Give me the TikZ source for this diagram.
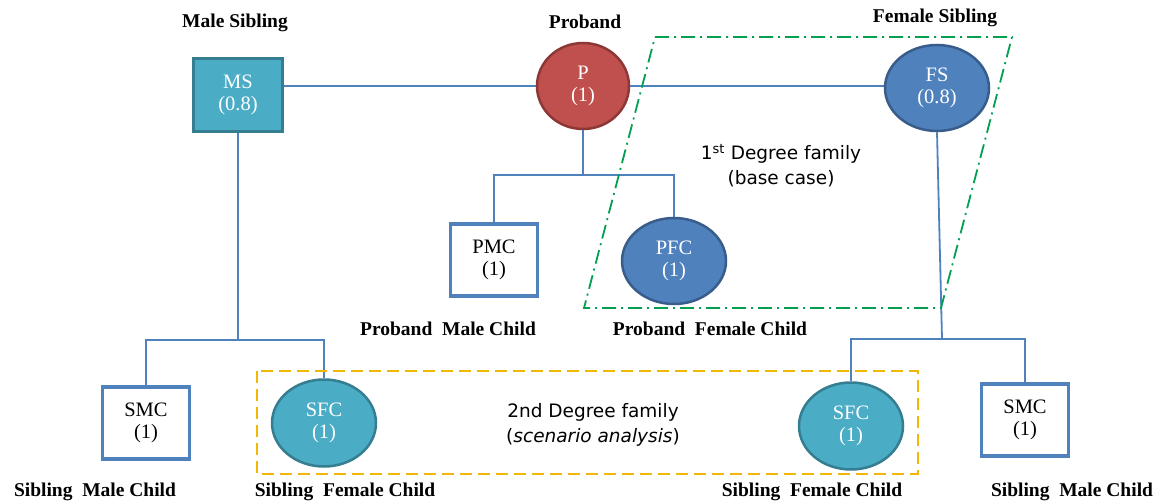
\documentclass[tikz,border=0pt]{standalone}
\usepackage{fontspec}
\setmainfont{Liberation Serif}
\newfontfamily\comicfont{DejaVu Sans}
\usetikzlibrary{shapes.geometric,backgrounds}
\definecolor{teal1}{HTML}{4BACC6}
\definecolor{teal2}{HTML}{357D91}
\definecolor{blue1}{HTML}{4F81BD}
\definecolor{blue2}{HTML}{385D8A}
\definecolor{red1}{HTML}{C0504D}
\definecolor{red2}{HTML}{8C3836}
\definecolor{green1}{HTML}{00A050}
\definecolor{yellow1}{HTML}{F2B705}
\tikzset{
  nodetext/.style={align=center,font=\fontsize{20.5}{22}\selectfont,inner sep=0pt},
  tealbox/.style={nodetext,rectangle,fill=teal1,draw=teal2,line width=3pt,text=white,minimum width=89pt,minimum height=72pt},
  whitebox/.style={nodetext,rectangle,fill=white,draw=blue1,line width=3.5pt,text=black,minimum width=87pt,minimum height=72pt},
  redcirc/.style={nodetext,ellipse,fill=red1,draw=red2,line width=2.5pt,text=white,minimum width=92pt,minimum height=86pt},
  blueell/.style={nodetext,ellipse,fill=blue1,draw=blue2,line width=2.5pt,text=white,minimum width=104pt,minimum height=86pt},
  tealell/.style={nodetext,ellipse,fill=teal1,draw=teal2,line width=2.5pt,text=white,minimum width=104pt,minimum height=87pt},
  lbl/.style={font=\fontsize{19.5}{22}\selectfont\bfseries,inner sep=0pt},
  comic/.style={font=\fontsize{18.5}{25}\selectfont\comicfont,align=center,inner sep=0pt},
  conn/.style={draw=blue1,line width=1.8pt},
}
\begin{document}
\begin{tikzpicture}[x=1pt,y=-1pt]
\useasboundingbox (0,0) rectangle (1161,503);
% nodes
\node[tealbox] (MS) at (238,95) {MS\\(0.8)};
\node[redcirc] (P) at (583,86) {P\\(1)};
\node[blueell] (FS) at (937,88) {FS\\(0.8)};
\node[whitebox] (PMC) at (494,260) {PMC\\(1)};
\node[blueell] (PFC) at (674,261) {PFC\\(1)};
\node[whitebox] (SMCL) at (146,423) {SMC\\(1)};
\node[tealell] (SFCL) at (324,423) {SFC\\(1)};
\node[tealell] (SFCR) at (851,426) {SFC\\(1)};
\node[whitebox] (SMCR) at (1025,420) {SMC\\(1)};
% labels
\node[lbl] (lMS) at (235,23) {Male Sibling};
\node[lbl] (lP) at (585,22) {Proband};
\node[lbl] (lFS) at (935,18) {Female Sibling};
\node[lbl] (lPMC) at (448,329) {Proband\ \ Male Child};
\node[lbl] (lPFC) at (710,329) {Proband\ \ Female Child};
\node[lbl] (lSMCL) at (95,492) {Sibling\ \ Male Child};
\node[lbl] (lSFCL) at (345,492) {Sibling\ \ Female Child};
\node[lbl] (lSFCR) at (812,492) {Sibling\ \ Female Child};
\node[lbl] (lSMCR) at (1072,492) {Sibling\ \ Male Child};
\node[comic] (t1) at (781,166) {1\textsuperscript{st} Degree family\\(base case)};
\node[comic] (t2) at (593,425) {2nd Degree family\\(\textit{scenario analysis})};
% junctions
\coordinate (pj) at (583,175);
\coordinate (msj) at (238,340);
\coordinate (fsj) at (942,339);
\begin{scope}[on background layer]
\draw[conn] (P.west) -- (P.west -| MS.east);
\draw[conn] (P.east) -- (P.east -| FS.west);
\draw[conn] (P.south) -- (pj);
\draw[conn] (PMC.north) |- (pj) -| (PFC.north);
\draw[conn] (MS.south) -- (msj);
\draw[conn] (SMCL.north) |- (msj) -| (SFCL.north);
\draw[conn] (FS.south) -- (fsj);
\draw[conn] (SFCR.north) |- (fsj) -| (SMCR.north);
\end{scope}
% group outlines
\coordinate (g1) at (655,37);
\coordinate (g2) at (1012,37);
\coordinate (g3) at (941,308);
\coordinate (g4) at (584,308);
\draw[green1,line width=1.8pt,dash pattern=on 14pt off 5pt on 2pt off 5pt] (g1) -- (g2) -- (g3) -- (g4) -- cycle;
\coordinate (y1) at (257,371);
\coordinate (y2) at (918,474);
\draw[yellow1,line width=2.2pt,dash pattern=on 12pt off 6pt] (y1) rectangle (y2);
\end{tikzpicture}
\end{document}
